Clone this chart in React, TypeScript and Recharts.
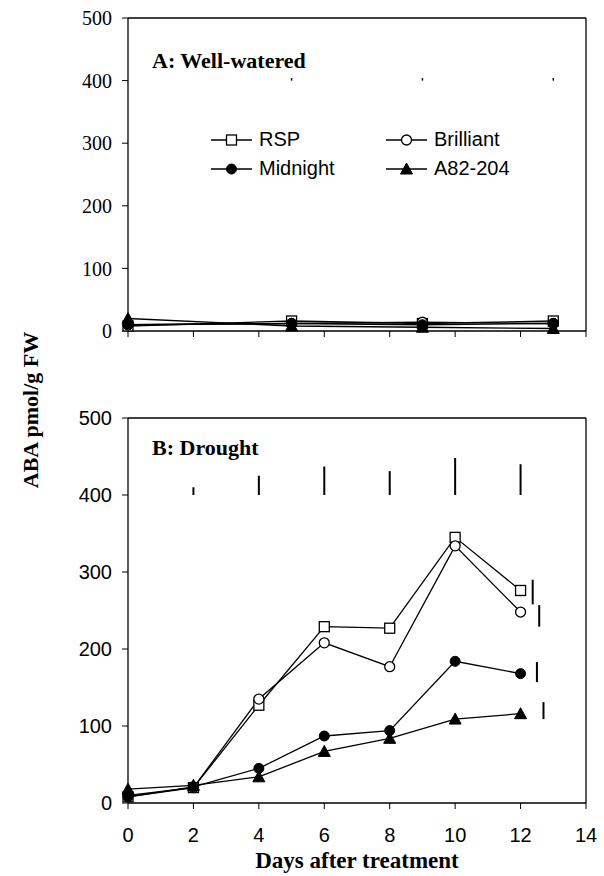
import React from "react";
import {
  LineChart,
  Line,
  XAxis,
  YAxis,
  ReferenceLine,
  Legend,
} from "recharts";

// Panel A: well-watered
const wellDays = [0, 5, 9, 13];
const rspWell = [8, 16, 12, 16];
const brilliantWell = [10, 12, 14, 12];
const midnightWell = [10, 12, 10, 12];
const a82Well = [20, 8, 6, 4];
const wellLsdDays = [5, 9, 13];
const wellLsdSize = [4, 4, 4];

// Panel B: drought
const droughtDays = [0, 2, 4, 6, 8, 10, 12];
const rspDrought = [8, 20, 127, 229, 227, 345, 276];
const brilliantDrought = [10, 20, 135, 208, 177, 334, 248];
const midnightDrought = [8, 21, 45, 87, 94, 184, 168];
const a82Drought = [18, 23, 34, 67, 84, 109, 116];
const droughtLsdDays = [2, 4, 6, 8, 10, 12];
const droughtLsdSize = [10, 25, 37, 31, 48, 40];
// side bars next to the last point of each line: [day, low, high]
const sideBarDays = [12.37, 12.57, 12.5, 12.7];
const sideBarLow = [258, 229, 157, 109];
const sideBarHigh = [290, 257, 183, 131];

const xTicks = [0, 2, 4, 6, 8, 10, 12, 14];
const yTicks = [0, 100, 200, 300, 400, 500];

const serif = "'Liberation Serif', 'Times New Roman', serif";
const sans = "'Liberation Sans', Arial, sans-serif";

const wellData = wellDays.map((day, i) => ({
  day,
  rsp: rspWell[i],
  brilliant: brilliantWell[i],
  midnight: midnightWell[i],
  a82: a82Well[i],
}));

const droughtData = droughtDays.map((day, i) => ({
  day,
  rsp: rspDrought[i],
  brilliant: brilliantDrought[i],
  midnight: midnightDrought[i],
  a82: a82Drought[i],
}));

function SquareDot(p: any) {
  if (p.cx == null || p.cy == null) return null;
  return (
    <rect key={`sq-${p.index}`} x={p.cx - 5} y={p.cy - 5} width={10} height={10}
      fill="#fff" stroke="#000" strokeWidth={1.3} />
  );
}
function OpenCircleDot(p: any) {
  if (p.cx == null || p.cy == null) return null;
  return <circle key={`oc-${p.index}`} cx={p.cx} cy={p.cy} r={5} fill="#fff" stroke="#000" strokeWidth={1.3} />;
}
function FilledCircleDot(p: any) {
  if (p.cx == null || p.cy == null) return null;
  return <circle key={`fc-${p.index}`} cx={p.cx} cy={p.cy} r={5} fill="#000" stroke="#000" />;
}
function TriangleDot(p: any) {
  if (p.cx == null || p.cy == null) return null;
  const { cx, cy } = p;
  return (
    <path key={`tr-${p.index}`} d={`M${cx},${cy - 6} L${cx + 6},${cy + 5} L${cx - 6},${cy + 5} Z`}
      fill="#000" stroke="#000" />
  );
}

const seriesDefs = [
  { key: "rsp", name: "RSP", dot: SquareDot },
  { key: "brilliant", name: "Brilliant", dot: OpenCircleDot },
  { key: "midnight", name: "Midnight", dot: FilledCircleDot },
  { key: "a82", name: "A82-204", dot: TriangleDot },
];

function LegendBox() {
  return (
    <div style={{ display: "grid", gridTemplateColumns: "175px 140px" }}>
      {seriesDefs.map((s) => {
        const Dot = s.dot;
        return (
          <div key={s.key} style={{ display: "flex", alignItems: "center", height: 29 }}>
            <svg width={41} height={20}>
              <line x1={0} y1={10} x2={41} y2={10} stroke="#000" strokeWidth={1.3} />
              <Dot cx={20.5} cy={10} index={0} />
            </svg>
            <span style={{ fontFamily: sans, fontSize: 20, marginLeft: 7, color: "#000" }}>{s.name}</span>
          </div>
        );
      })}
    </div>
  );
}

function seriesLines() {
  return seriesDefs.map((s) => (
    <Line
      key={s.key}
      dataKey={s.key}
      name={s.name}
      stroke="#000"
      strokeWidth={1.3}
      dot={s.dot}
      activeDot={false}
      isAnimationActive={false}
    />
  ));
}

export default function App() {
  return (
    <div style={{ position: "absolute", left: 0, top: 0, width: 604, height: 876, background: "#fff" }}>
      <div style={{ position: "absolute", left: 0, top: 0 }}>
        <LineChart width={604} height={410} data={wellData} margin={{ top: 18, right: 18, left: 68, bottom: 11 }}>
          <XAxis
            dataKey="day"
            type="number"
            domain={[0, 14]}
            ticks={xTicks}
            height={10}
            tickSize={6}
            tickFormatter={() => ""}
            axisLine={{ stroke: "#000", strokeWidth: 1.3 }}
            tickLine={{ stroke: "#000" }}
          />
          <YAxis
            type="number"
            domain={[0, 500]}
            ticks={yTicks}
            width={60}
            tickSize={6}
            tickMargin={10}
            interval={0}
            axisLine={{ stroke: "#000", strokeWidth: 1.3 }}
            tickLine={{ stroke: "#000" }}
            tick={{ fill: "#000", fontFamily: serif, fontSize: 20 }}
          />
          <ReferenceLine y={500} stroke="#000" strokeWidth={1.3} />
          <ReferenceLine x={14} stroke="#000" strokeWidth={1.3} />
          {wellLsdDays.map((d, i) => (
            <ReferenceLine key={`wl-${i}`} segment={[{ x: d, y: 400 }, { x: d, y: 400 + wellLsdSize[i] }]}
              stroke="#000" strokeWidth={1.5} />
          ))}
          {seriesLines()}
          <Legend content={() => <LegendBox />} wrapperStyle={{ left: 211, top: 125, width: 330 }} />
        </LineChart>
      </div>

      <div style={{ position: "absolute", left: 0, top: 400 }}>
        <LineChart width={604} height={476} data={droughtData} margin={{ top: 18, right: 18, left: 68, bottom: 13 }}>
          <XAxis
            dataKey="day"
            type="number"
            domain={[0, 14]}
            ticks={xTicks}
            height={60}
            tickSize={6}
            tickMargin={19}
            axisLine={{ stroke: "#000", strokeWidth: 1.3 }}
            tickLine={{ stroke: "#000" }}
            tick={{ fill: "#000", fontFamily: sans, fontSize: 20 }}
            label={{
              value: "Days after treatment",
              position: "insideBottom",
              offset: -5,
              fill: "#000",
              fontFamily: serif,
              fontWeight: "bold",
              fontSize: 23,
            }}
          />
          <YAxis
            type="number"
            domain={[0, 500]}
            ticks={yTicks}
            width={60}
            tickSize={6}
            tickMargin={10}
            interval={0}
            axisLine={{ stroke: "#000", strokeWidth: 1.3 }}
            tickLine={{ stroke: "#000" }}
            tick={{ fill: "#000", fontFamily: sans, fontSize: 20 }}
          />
          <ReferenceLine y={500} stroke="#000" strokeWidth={1.3} />
          <ReferenceLine x={14} stroke="#000" strokeWidth={1.3} />
          {droughtLsdDays.map((d, i) => (
            <ReferenceLine key={`dl-${i}`} segment={[{ x: d, y: 400 }, { x: d, y: 400 + droughtLsdSize[i] }]}
              stroke="#000" strokeWidth={2} />
          ))}
          {sideBarDays.map((d, i) => (
            <ReferenceLine key={`sb-${i}`} segment={[{ x: d, y: sideBarLow[i] }, { x: d, y: sideBarHigh[i] }]}
              stroke="#000" strokeWidth={2} />
          ))}
          {seriesLines()}
        </LineChart>
      </div>

      <svg width={604} height={876} style={{ position: "absolute", left: 0, top: 0, pointerEvents: "none" }}>
        <text x={152} y={68} fontFamily={serif} fontWeight="bold" fontSize={22} fill="#000">A: Well-watered</text>
        <text x={152} y={455} fontFamily={serif} fontWeight="bold" fontSize={22} fill="#000">B: Drought</text>
        <text x={38} y={410} transform="rotate(-90, 38, 410)" textAnchor="middle" fontFamily={serif}
          fontWeight="bold" fontSize={22} fill="#000">ABA pmol/g FW</text>
      </svg>
    </div>
  );
}
